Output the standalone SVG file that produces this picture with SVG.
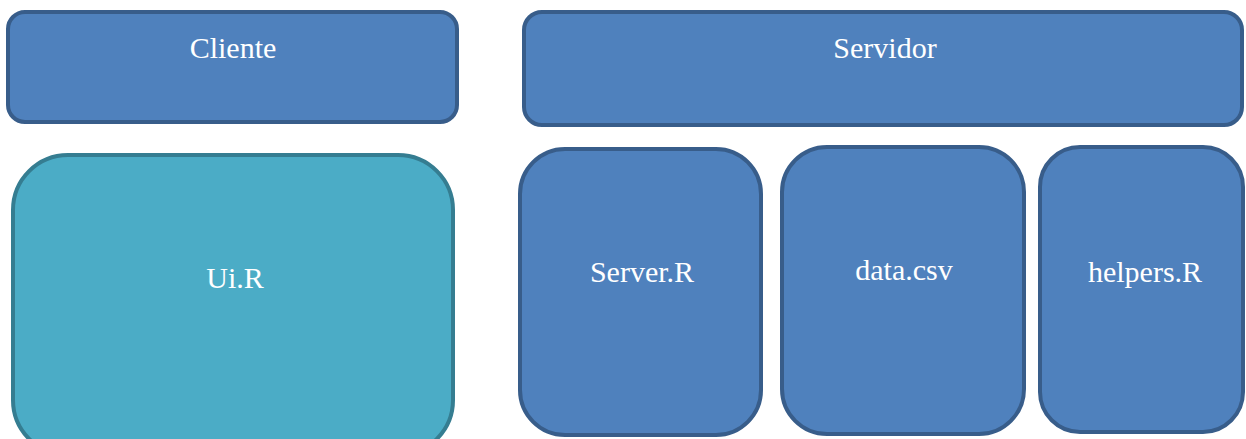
<svg xmlns="http://www.w3.org/2000/svg" width="1246" height="439" viewBox="0 0 1246 439">
  <style>
    .blue { fill: #4f81bd; stroke: #385d8a; stroke-width: 4; }
    .teal { fill: #4bacc6; stroke: #357d91; stroke-width: 4; }
    .label { font-family: "Liberation Serif", "Times New Roman", serif; font-size: 30px; fill: #ffffff; text-anchor: middle; }
  </style>
  <rect width="1246" height="439" fill="#ffffff"/>
  <g id="cliente">
    <rect class="blue" x="8" y="12" width="449" height="110" rx="17" ry="17"/>
    <text class="label" x="233" y="58">Cliente</text>
  </g>
  <g id="servidor">
    <rect class="blue" x="524" y="12" width="718" height="113" rx="18" ry="18"/>
    <text class="label" x="885" y="58">Servidor</text>
  </g>
  <g id="ui-r">
    <rect class="teal" x="13" y="155" width="440" height="300" rx="55" ry="55"/>
    <text class="label" x="235" y="288">Ui.R</text>
  </g>
  <g id="server-r">
    <rect class="blue" x="520" y="149" width="241" height="286" rx="45" ry="45"/>
    <text class="label" x="642" y="282">Server.R</text>
  </g>
  <g id="data-csv">
    <rect class="blue" x="782" y="147" width="242" height="287" rx="45" ry="45"/>
    <text class="label" x="904" y="280">data.csv</text>
  </g>
  <g id="helpers-r">
    <rect class="blue" x="1040" y="147" width="203" height="285" rx="40" ry="40"/>
    <text class="label" x="1145" y="282">helpers.R</text>
  </g>
  <g id="connectors"/>
</svg>
